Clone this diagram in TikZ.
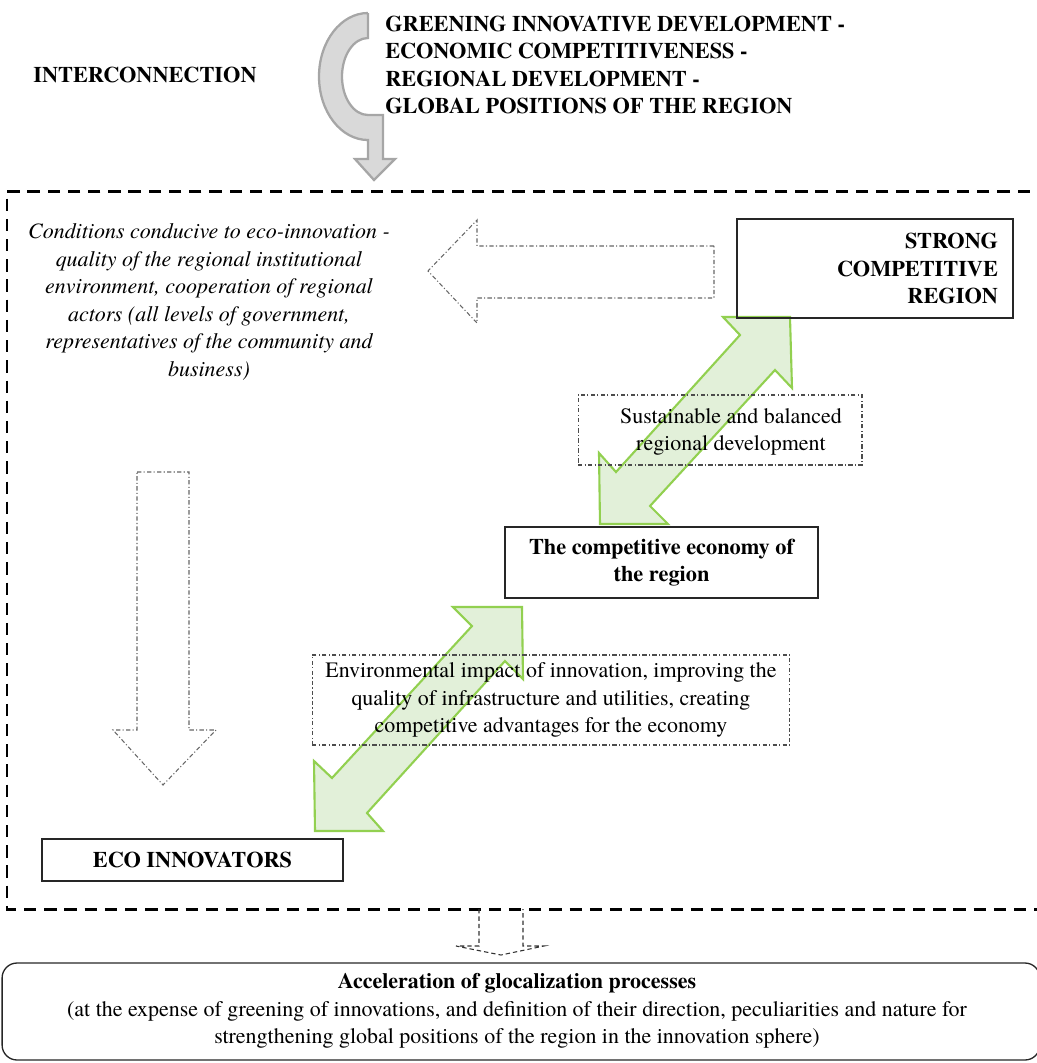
\documentclass[tikz,border=0pt]{standalone}
\usepackage{fontspec}
\setmainfont{texgyretermes}[Extension=.otf, UprightFont=*-regular, BoldFont=*-bold, ItalicFont=*-italic, BoldItalicFont=*-bolditalic]
\definecolor{arrowfill}{HTML}{E2F0D9}
\definecolor{arrowline}{HTML}{92D050}
\definecolor{grayfill}{HTML}{D9D9D9}
\definecolor{grayline}{HTML}{A6A6A6}
\begin{document}
\begin{tikzpicture}[x=0.02cm,y=-0.02cm,
  font=\fontsize{12.5}{15.7}\selectfont,
  boldfont/.style={font=\fontsize{12.7}{15.7}\selectfont\bfseries},
  sbox/.style={draw=black!85, line width=0.75pt, inner sep=0pt},
  ddbox/.style={draw=black!70, line width=0.6pt, dash pattern=on 2.5pt off 1.3pt on 0.6pt off 1.3pt, inner sep=0pt},
  ddarrow/.style={draw=black!60, line width=0.6pt, dash pattern=on 2.5pt off 1.3pt on 0.6pt off 1.3pt},
  smalldash/.style={draw=black!80, line width=0.6pt, dash pattern=on 2.5pt off 1.7pt},
  greenarrow/.style={fill=arrowfill, draw=arrowline, line width=1.2pt, line join=miter},
  grayarrow/.style={fill=grayfill, draw=grayline, line width=1.3pt, line join=miter},
  frame/.style={draw=black, line width=1.7pt, dash pattern=on 7pt off 4.5pt},
  txt/.style={inner sep=0pt, align=center},
]
\useasboundingbox (0,0) rectangle (1036,1063);

% top curved arrow
\draw[grayarrow] (368,13) -- (368,38)
  arc[start angle=270, end angle=90, x radius=26, y radius=38.5]
  -- (383,115) -- (383,159) -- (395,159) -- (374,180) -- (355,159) -- (368,159) -- (368,140)
  arc[start angle=90, end angle=270, x radius=49, y radius=63.5] -- cycle;

\node[boldfont, anchor=west, inner sep=0pt] (inter) at (33,75) {INTERCONNECTION};
\node[boldfont, anchor=west, inner sep=0pt, align=left] (chain) at (385,65)
  {GREENING INNOVATIVE DEVELOPMENT -\\ECONOMIC COMPETITIVENESS -\\REGIONAL DEVELOPMENT -\\GLOBAL POSITIONS OF THE REGION};

% outer dashed frame
\draw[frame] (1050,191) -- (7,191) -- (7,909) -- (1050,909);

% dash-dot arrows
\draw[ddarrow] (714,246) -- (477,246) -- (477,220) -- (428,271) -- (477,323) -- (477,298) -- (714,298) -- cycle;
\draw[ddarrow] (137,472) -- (189,472) -- (189,730) -- (216,730) -- (163,785) -- (113,730) -- (137,730) -- cycle;

% green double arrows
\draw[greenarrow] (790,317) -- (723,317) -- (740,335) -- (616,472) -- (599,453) -- (600,524) -- (668,524) -- (650,506) -- (775,370) -- (792,388) -- cycle;
\draw[greenarrow] (522,607) -- (453,607) -- (472,626) -- (332,778) -- (314,761) -- (315,831) -- (383,831) -- (367,813) -- (505,661) -- (523,679) -- cycle;

\node[txt, font=\fontsize{12.5}{15.7}\selectfont\itshape] (cond) at (209,302)
  {Conditions conducive to eco-innovation -\\quality of the regional institutional\\environment, cooperation of regional\\actors (all levels of government,\\representatives of the community and\\business)};

\node[sbox, boldfont, minimum width=5.52cm, minimum height=1.98cm, text width=4.92cm, align=right] (strong) at (875,268.5)
  {STRONG\\COMPETITIVE\\REGION};

\node[ddbox, minimum width=5.68cm, minimum height=1.4cm] (sust) at (720,430) {};
\node[txt] (susttxt) at (731,432) {Sustainable and balanced\\regional development};

\node[sbox, boldfont, minimum width=6.26cm, minimum height=1.42cm, align=center] (econ) at (661.5,562.5)
  {The competitive economy of\\the region};

\node[ddbox, minimum width=9.56cm, minimum height=1.8cm, align=center] (env) at (551,700)
  {Environmental impact of innovation, improving the\\quality of infrastructure and utilities, creating\\competitive advantages for the economy};

\node[sbox, boldfont, minimum width=6.02cm, minimum height=0.84cm] (eco) at (192.5,860) {ECO INNOVATORS};

% small dashed arrow
\coordinate (fa) at (479,909);
\coordinate (fb) at (523,909);
\draw[smalldash] (fa) -- (479,946) -- (456,946) -- (501,955) -- (544,946) -- (523,946) -- (fb);

% bottom box
\node[sbox, rounded corners=8.5pt, minimum width=20.76cm, minimum height=1.94cm] (accel) at (521,1011.5) {};
\node[txt] (acceltxt) at (517,1011)
  {\textbf{Acceleration of glocalization processes}\\(at the expense of greening of innovations, and definition of their direction, peculiarities and nature for\\strengthening global positions of the region in the innovation sphere)};
\end{tikzpicture}
\end{document}
